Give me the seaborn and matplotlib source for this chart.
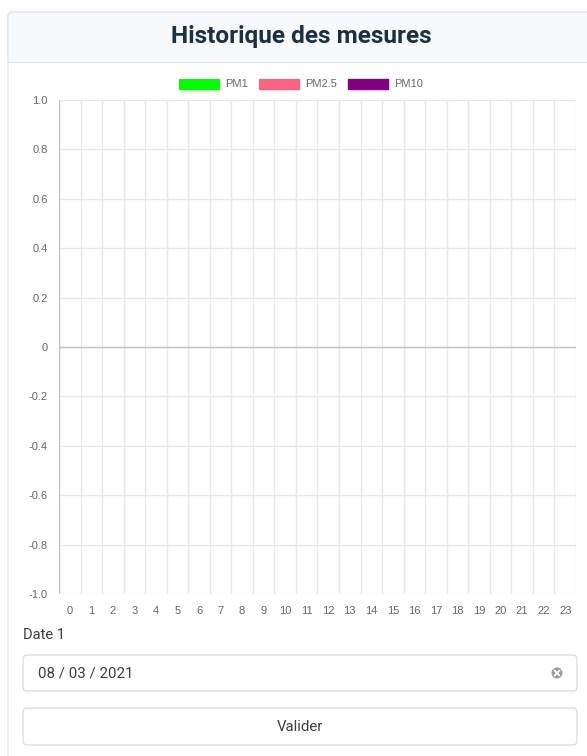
import matplotlib
matplotlib.use("Agg")
import matplotlib.pyplot as plt
import seaborn as sns
from matplotlib.patches import Patch, FancyBboxPatch, Rectangle, Circle
from matplotlib.ticker import FuncFormatter, MultipleLocator

# Chart data (the reference chart shows no measurements yet)
hours = list(range(24))
series_names = ["PM1", "PM2.5", "PM10"]
series_colors = ["#00ff00", "#ff6384", "#800080"]
pm1 = []
pm25 = []
pm10 = []
date_value = "08 / 03 / 2021"

sns.set_theme(style="white")
plt.rcParams["font.family"] = ["Liberation Sans", "DejaVu Sans"]

W, H = 587, 756
fig = plt.figure(figsize=(W / 100, H / 100), dpi=100)

# Background layer in pixel coordinates
bg = fig.add_axes([0, 0, 1, 1], zorder=0)
bg.set_xlim(0, W)
bg.set_ylim(H, 0)
bg.axis("off")

card_edge = "#e3e7ee"
bg.add_patch(FancyBboxPatch((8, 12), W + 20, H, boxstyle="round,pad=0,rounding_size=5",
                            facecolor="white", edgecolor=card_edge, lw=1))
bg.add_patch(FancyBboxPatch((8, 12), W + 20, 50, boxstyle="round,pad=0,rounding_size=5",
                            facecolor="#f7f9fc", edgecolor=card_edge, lw=1))
bg.add_patch(Rectangle((8.5, 40), W, 22, facecolor="#f7f9fc", edgecolor="none"))
bg.plot([8, W], [62, 62], color=card_edge, lw=1)
bg.text(301, 37, "Historique des mesures", family="Roboto", fontweight="bold",
        fontsize=17.6, color="#1b3040", ha="center", va="center")

# Form below the chart
form_font = ["Roboto", "DejaVu Sans"]
bg.text(23, 635, "Date 1", family=form_font, fontsize=10.5, color="#3a3f45",
        ha="left", va="center")
bg.add_patch(FancyBboxPatch((23, 655), 554, 36, boxstyle="round,pad=0,rounding_size=4",
                            facecolor="white", edgecolor="#d8dce2", lw=1))
bg.text(38, 674, date_value, family=form_font, fontsize=10.8, color="#3a3f45",
        ha="left", va="center")
bg.add_patch(Circle((557, 673), 5.5, facecolor="#9a9a9a", edgecolor="none"))
bg.plot([554.5, 559.5], [670.5, 675.5], color="white", lw=1.3)
bg.plot([554.5, 559.5], [675.5, 670.5], color="white", lw=1.3)
bg.add_patch(FancyBboxPatch((23, 708), 554, 37, boxstyle="round,pad=0,rounding_size=4",
                            facecolor="white", edgecolor="#d8dce2", lw=1))
bg.text(300, 727, "Valider", family=form_font, fontsize=10.8, color="#3a3f45",
        ha="center", va="center")

# Chart area
left, right, top, bottom = 59, 576, 100, 594
ax = fig.add_axes([left / W, 1 - bottom / H, (right - left) / W, (bottom - top) / H], zorder=1)
ax.patch.set_alpha(0)

for name, color, values in zip(series_names, series_colors, [pm1, pm25, pm10]):
    sns.lineplot(x=hours[:len(values)], y=values, color=color, ax=ax)

ax.set_xlim(-0.5, 23.5)
ax.set_ylim(-1.0, 1.0)
ax.set_xticks(hours)
ax.set_xticklabels([str(h) for h in hours])
ax.set_xticks([h - 0.5 for h in hours] + [23.5], minor=True)
ax.yaxis.set_major_locator(MultipleLocator(0.2))
ax.yaxis.set_major_formatter(FuncFormatter(lambda v, p: "0" if abs(v) < 1e-9 else f"{v:.1f}"))

grid_c = "#e8e8e8"
ax.grid(False)
ax.grid(True, axis="x", which="minor", color=grid_c, lw=1)
ax.grid(True, axis="y", which="major", color=grid_c, lw=1)
ax.axhline(0, color="#c4c4c4", lw=1)
ax.axvline(-0.5, color="#c4c4c4", lw=1)

ax.tick_params(axis="x", which="major", length=0, pad=9, labelsize=8, labelcolor="#666666")
ax.tick_params(axis="x", which="minor", length=7, color=grid_c, width=1, direction="out")
ax.tick_params(axis="y", which="major", length=5, color=grid_c, width=1, pad=3,
               labelsize=8, labelcolor="#666666", direction="out")
for s in ax.spines.values():
    s.set_visible(False)
ax.set_xlabel("")
ax.set_ylabel("")

handles = [Patch(facecolor=c, edgecolor=c, label=n) for n, c in zip(series_names, series_colors)]
fig.legend(handles=handles, loc="center", bbox_to_anchor=(301 / W, 1 - 84 / H), ncol=3,
           frameon=False, fontsize=8, labelcolor="#666666", handlelength=3.6,
           handleheight=1.0, handletextpad=0.55, columnspacing=1.0)

fig.savefig("out.png", dpi=100)
